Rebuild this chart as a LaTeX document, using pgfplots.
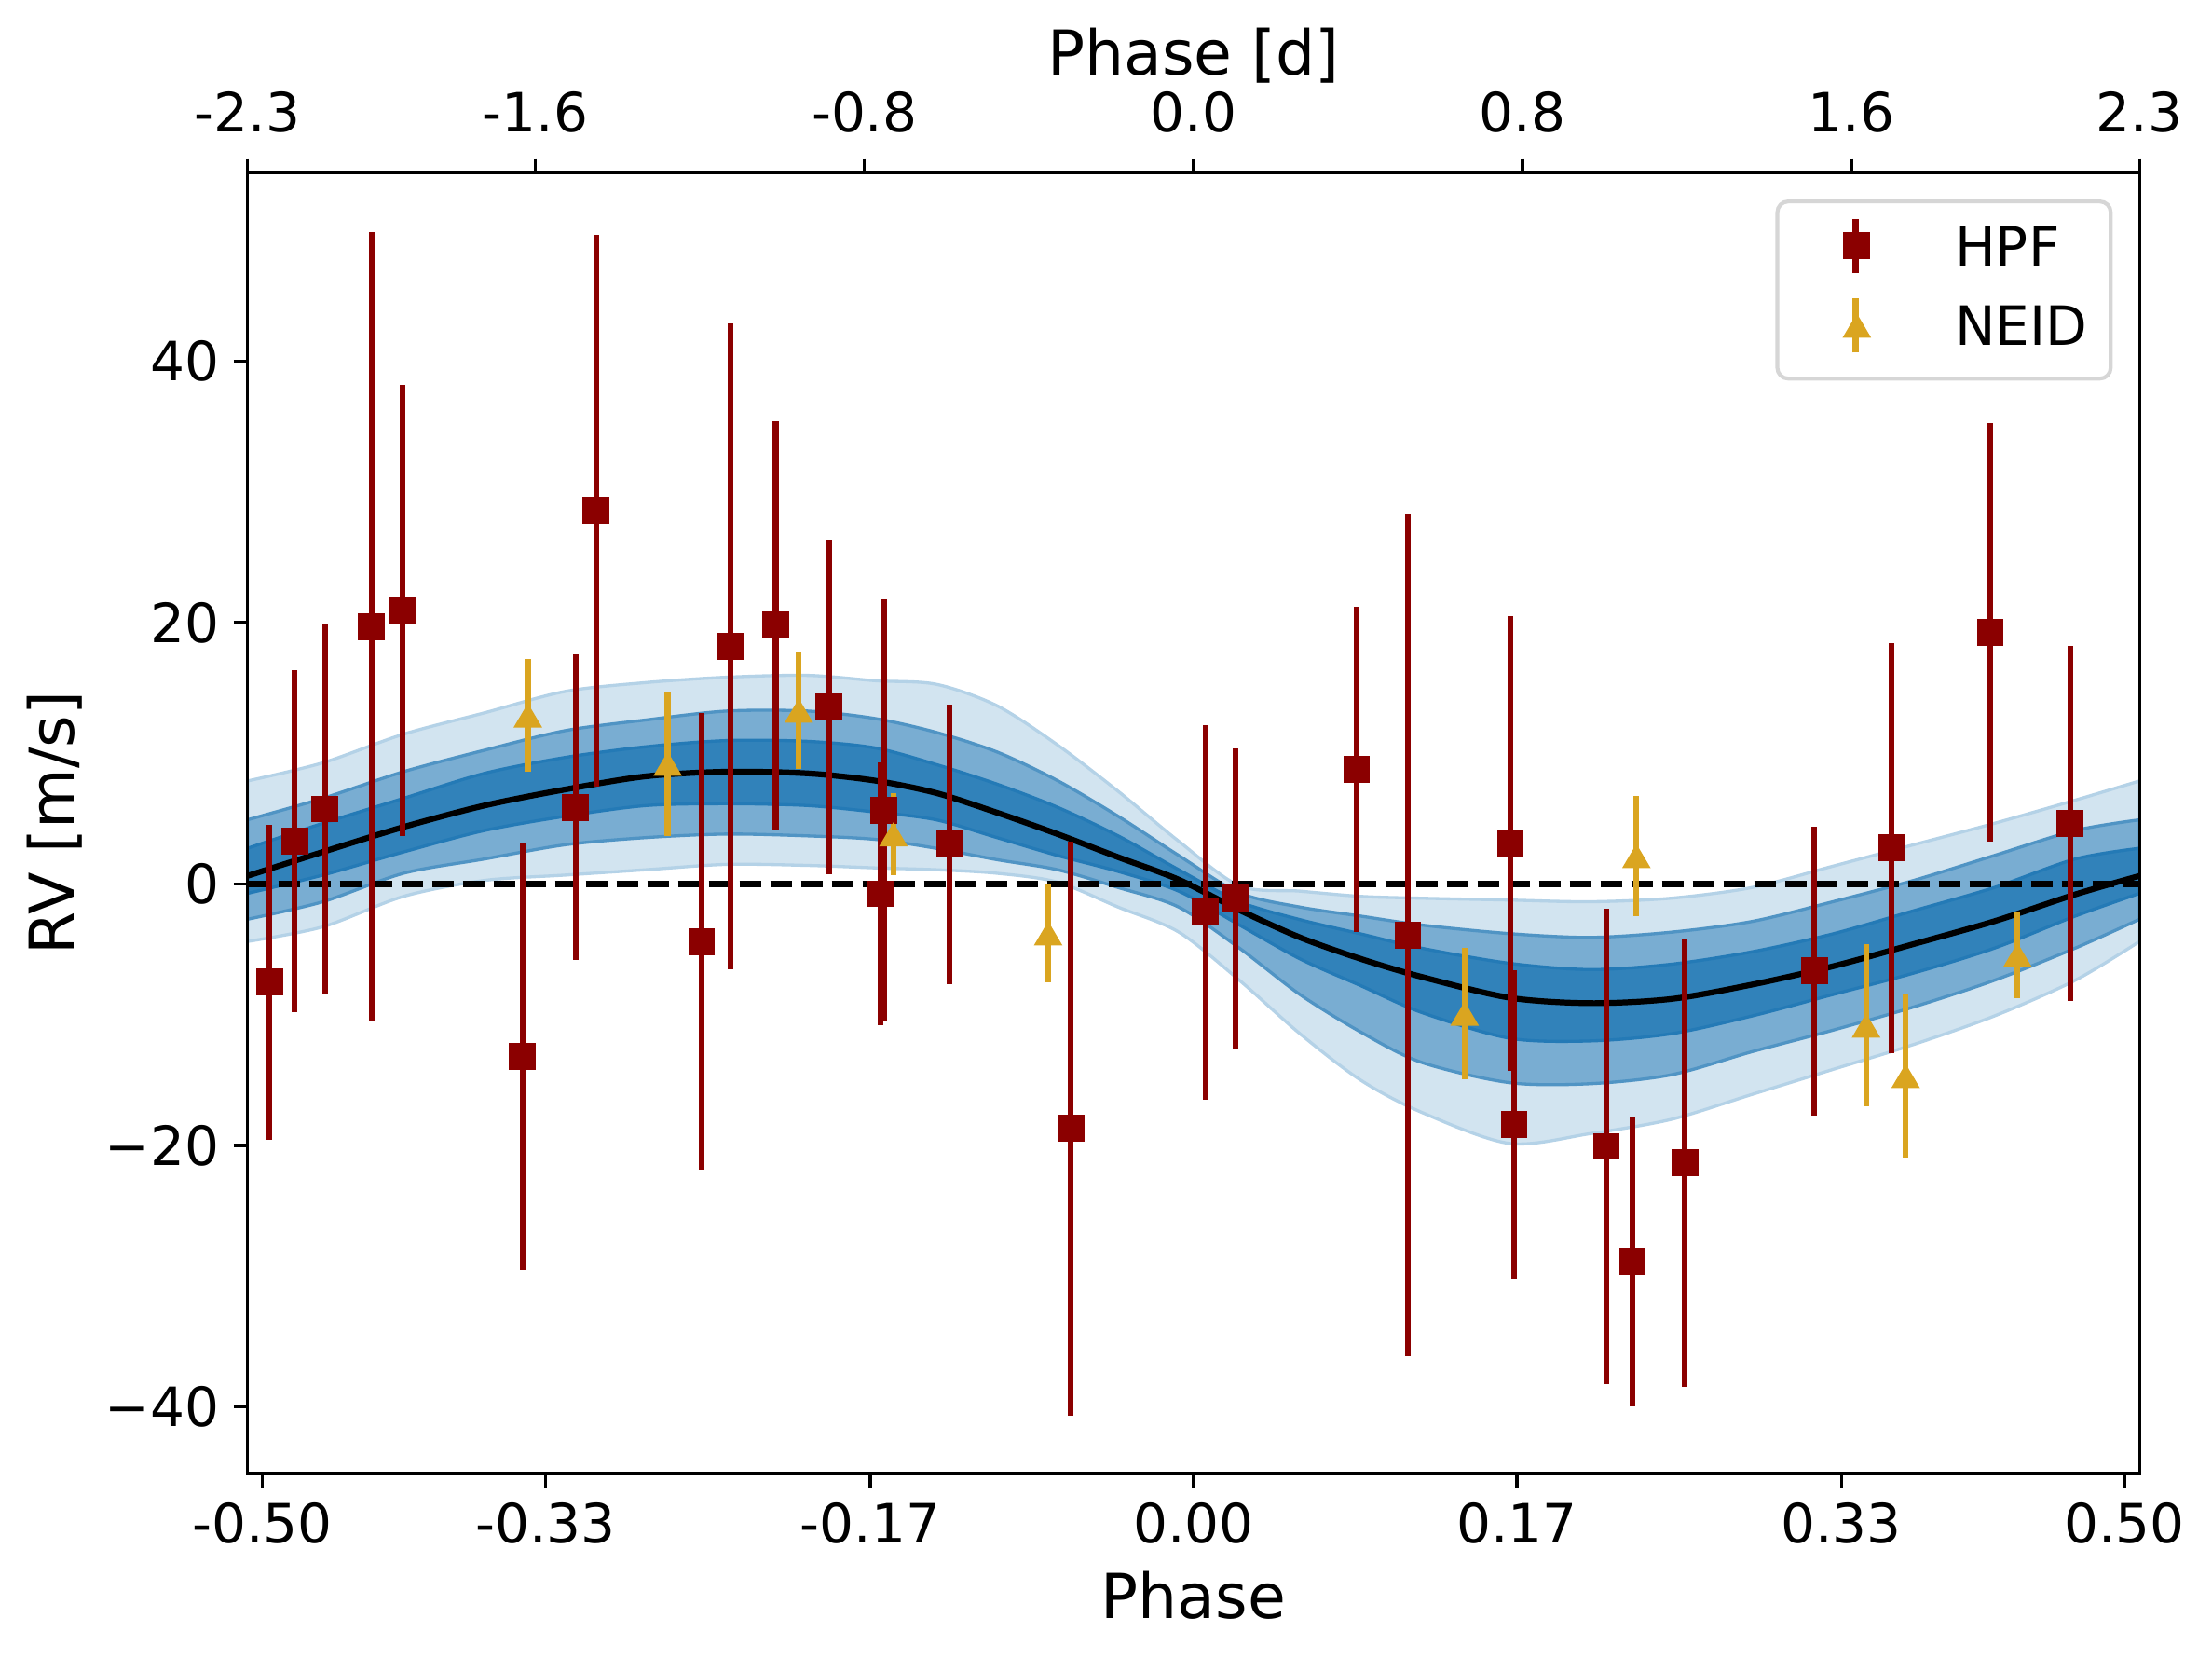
\documentclass[border=0pt]{standalone}
\usepackage{fontspec}
\setmainfont{DejaVu Sans}
\usepackage{pgfplots}
\pgfplotsset{compat=1.18}
\usepgfplotslibrary{fillbetween}
\usepackage{pgfplotstable}

\definecolor{hpf}{RGB}{139,0,0}
\definecolor{neid}{RGB}{218,165,32}
\definecolor{bandL}{RGB}{210,228,240}
\definecolor{bandM}{RGB}{121,173,210}
\definecolor{bandD}{RGB}{49,130,186}
\definecolor{edgeL}{RGB}{180,210,231}
\definecolor{edgeM}{RGB}{80,148,196}
\definecolor{edgeD}{RGB}{36,122,182}
\definecolor{framegray}{RGB}{214,214,214}

\pgfdeclareplotmark{msq}{\pgfpathrectanglecorners{\pgfqpoint{-3.47pt}{-3.47pt}}{\pgfqpoint{3.47pt}{3.47pt}}\pgfusepathqfill}
\pgfdeclareplotmark{mtri}{\pgfpathmoveto{\pgfqpoint{0pt}{3.13pt}}\pgfpathlineto{\pgfqpoint{-3.7pt}{-3.13pt}}\pgfpathlineto{\pgfqpoint{3.7pt}{-3.13pt}}\pgfpathclose\pgfusepathqfill}

\pgfplotstableread{
ph      rv      err
-0.4883 -7.50   12.05
-0.4750  3.26   13.10
-0.4590  5.73   14.10
-0.4344 19.70   30.20
-0.4182 20.90   17.25
-0.3546 -13.20  16.35
-0.3266  5.87   11.70
-0.3157 28.56   21.10
-0.2600 -4.40   17.45
-0.2448 18.20   24.70
-0.2208 19.80   15.60
-0.1926 13.55   12.80
-0.1635  5.65   16.10
-0.1655 -0.75   10.04
-0.1290  3.05   10.70
-0.0649 -18.70  21.95
 0.0064 -2.17   14.33
 0.0222 -1.10   11.46
 0.0862  8.76   12.43
 0.1133 -3.95   32.20
 0.1675  3.09   17.40
 0.1695 -18.42  11.80
 0.2182 -20.08  18.20
 0.2320 -28.88  11.06
 0.2597 -21.30  17.15
 0.3282 -6.66   11.03
 0.3690  2.75   15.66
 0.4211 19.24   16.00
 0.4634  4.63   13.55
}\hpfdata

\pgfplotstableread{
ph      rv      err
-0.3518 12.90   4.30
-0.2779  9.20   5.52
-0.2086 13.26   4.45
-0.1586  3.80   3.15
-0.0768 -3.78   3.78
 0.1433 -9.92   5.00
 0.2341  2.14   4.60
 0.3555 -10.83  6.20
 0.3764 -14.68  6.27
 0.4355 -5.42   3.31
}\neiddata

\pgfplotstableread{
ph      lo3     lo2     lo1     med     hi1     hi2     hi3
-0.5000 -4.40   -2.70   -0.72   0.62    2.73    4.91    7.88
-0.4602 -3.28   -1.36   0.68    2.45    4.64    6.55    9.27
-0.4175 -0.95   0.82    2.45    4.36    6.55    8.59    11.46
-0.3748 0.27    1.91    4.09    6.00    8.46    10.23   13.09
-0.3321 0.68    3.00    5.18    7.23    9.68    11.73   14.73
-0.2893 1.09    3.55    6.00    8.24    10.50   12.55   15.41
-0.2466 1.50    3.82    6.14    8.59    10.97   13.23   15.82
-0.2039 1.42    3.68    6.00    8.46    10.91   13.23   15.96
-0.1680 1.23    3.41    5.50    7.90    10.40   12.65   15.55
-0.1360 1.09    2.73    4.91    6.96    9.14    11.60   15.28
-0.1039 0.82    1.86    3.55    5.46    7.64    10.10   13.64
-0.0719 0.14    1.09    2.18    3.82    5.87    7.91    10.64
-0.0398 -1.77   -0.27   0.96    2.05    3.68    5.18    7.09
-0.0078 -3.68   -1.77   -0.55   0.33    1.09    2.18    3.27
0.0243  -7.37   -4.91   -3.14   -2.00   -1.36   -0.68   -0.14
0.0563  -11.46  -8.46   -5.73   -4.09   -2.73   -1.77   -0.55
0.0884  -15.01  -11.33  -7.78   -5.73   -3.82   -2.46   -0.95
0.1204  -17.46  -13.64  -9.82   -7.10   -4.91   -3.14   -1.09
0.1670  -19.85  -15.20  -11.80  -8.70   -6.07   -3.80   -1.23
0.2097  -19.10  -15.28  -12.01  -9.12   -6.55   -4.09   -1.36
0.2525  -18.01  -14.60  -11.46  -8.80   -6.14   -3.69   -1.09
0.2952  -16.10  -12.83  -10.10  -7.70   -5.19   -2.87   -0.27
0.3379  -14.19  -11.19  -8.46   -6.30   -3.82   -1.36   1.36
0.3806  -12.28  -9.41   -6.82   -4.60   -2.05   0.27    3.00
0.4233  -10.10  -7.37   -4.91   -2.85   -0.27   2.18    4.64
0.4660  -7.37   -4.91   -2.46   -0.80   1.91    4.09    6.41
0.5000  -4.40   -2.70   -0.72   0.62    2.73    4.91    7.88
}\banddata

\begin{document}
\begin{tikzpicture}
\begin{axis}[
  at={(63.98pt,47.91pt)}, anchor=south west,
  scale only axis, width=489.17pt, height=336.27pt,
  xmin=-0.5, xmax=0.5, ymin=-45.11, ymax=54.42,
  axis on top,
  tick align=outside,
  xtick pos=left, ytick pos=left,
  major tick length=3.52pt,
  tick style={line width=0.8pt, black},
  axis line style={line width=0.8pt},
  xtick={-0.4921,-0.3424,-0.1709,0,0.1709,0.3424,0.4921},
  xticklabels={-0.50,-0.33,-0.17,0.00,0.17,0.33,0.50},
  ytick={-40,-20,0,20,40},
  yticklabels={−40,−20,0,20,40},
  tick label style={font=\fontsize{14}{16}\selectfont},
  xticklabel style={anchor=north, inner sep=0pt, yshift=-3.87pt},
  yticklabel style={anchor=east, inner sep=0pt, xshift=-3.52pt},
  xlabel={Phase},
  x label style={at={([yshift=-37.48pt]axis description cs:0.5,0)}, anchor=base, inner sep=0pt, font=\fontsize{16}{19}\selectfont},
  ylabel={RV [m/s]},
  y label style={at={([xshift=-49.77pt]axis description cs:0,0.5)}, anchor=center, inner sep=0pt, font=\fontsize{16}{19}\selectfont},
  legend style={at={(1,1)}, anchor=north east, xshift=-6.95pt, yshift=-6.95pt,
    draw=framegray, line width=1pt, rounded corners=2.8pt, fill=white,
    inner xsep=6pt, inner ysep=6.1pt, row sep=7.6pt, column sep=20.2pt,
    font=\fontsize{14}{16}\selectfont,
    cells={anchor=base west},
    nodes={inner sep=0pt, text height=10.5pt, text depth=2.5pt}},
  legend image code/.code={%
    \draw[#1,sharp corners,overlay,line width=1.5pt] (0pt,-1.9pt) -- (0pt,12.1pt);
    \draw[#1,sharp corners,overlay] plot coordinates {(0.3pt,5.1pt)};
    \path[sharp corners] (-13.75pt,0pt) (5pt,0pt);
  },
]
% outer band
\addplot[name path=u3, draw=none, smooth, forget plot] table[x=ph,y=hi3]{\banddata};
\addplot[name path=l3, draw=none, smooth, forget plot] table[x=ph,y=lo3]{\banddata};
\addplot[fill=bandL, draw=edgeL, line width=0.8pt, forget plot] fill between[of=u3 and l3];
% middle band
\addplot[name path=u2, draw=none, smooth, forget plot] table[x=ph,y=hi2]{\banddata};
\addplot[name path=l2, draw=none, smooth, forget plot] table[x=ph,y=lo2]{\banddata};
\addplot[fill=bandM, draw=edgeM, line width=0.8pt, forget plot] fill between[of=u2 and l2];
% inner band
\addplot[name path=u1, draw=none, smooth, forget plot] table[x=ph,y=hi1]{\banddata};
\addplot[name path=l1, draw=none, smooth, forget plot] table[x=ph,y=lo1]{\banddata};
\addplot[fill=bandD, draw=edgeD, line width=0.8pt, forget plot] fill between[of=u1 and l1];
% median model
\addplot[black, line width=1.5pt, smooth, forget plot] table[x=ph,y=med]{\banddata};
% zero line
\addplot[black, line width=1.5pt, dash pattern=on 5.55pt off 2.4pt, forget plot] coordinates {(-0.5,0) (0.5,0)};
% HPF
\addplot[hpf, only marks, mark=msq,
  error bars/.cd, y dir=both, y explicit, error mark=none,
  error bar style={line width=1.5pt, solid}]
  table[x=ph, y=rv, y error=err]{\hpfdata};
\addlegendentry{HPF}
% NEID
\addplot[neid, only marks, mark=mtri,
  error bars/.cd, y dir=both, y explicit, error mark=none,
  error bar style={line width=1.5pt, solid}]
  table[x=ph, y=rv, y error=err]{\neiddata};
\addlegendentry{NEID}
\end{axis}
\begin{axis}[
  at={(63.98pt,47.91pt)}, anchor=south west,
  scale only axis, width=489.17pt, height=336.27pt,
  xmin=-2.3, xmax=2.3, ymin=0, ymax=1,
  tick align=outside,
  xtick pos=right, xticklabel pos=right,
  ytick=\empty,
  major tick length=3.52pt,
  tick style={line width=0.8pt, black},
  axis line style={line width=0.8pt},
  xtick={-2.3,-1.6,-0.8,0,0.8,1.6,2.3},
  xticklabels={-2.3,-1.6,-0.8,0.0,0.8,1.6,2.3},
  tick label style={font=\fontsize{14}{16}\selectfont},
  xticklabel style={anchor=south, inner sep=0pt, yshift=6.51pt},
  xlabel={Phase [d]},
  x label style={at={([yshift=25.2pt]axis description cs:0.5,1)}, anchor=base, inner sep=0pt, font=\fontsize{16}{19}\selectfont},
]
\addplot[draw=none, forget plot] coordinates {(-2.3,0) (2.3,1)};
\end{axis}
\pgfresetboundingbox
\useasboundingbox (0,0) rectangle (571.9pt,428.8pt);
\end{tikzpicture}
\end{document}
